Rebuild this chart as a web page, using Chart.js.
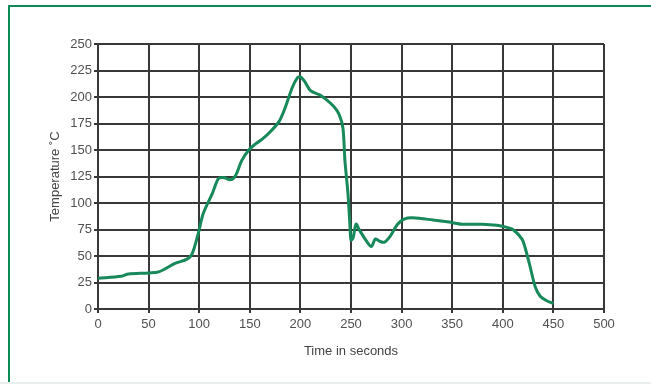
<!DOCTYPE html>
<html>
<head>
<meta charset="utf-8">
<script src="https://cdn.jsdelivr.net/npm/chart.js@4.4.1/dist/chart.umd.min.js"></script>
<style>
    body { margin: 0; background: #fff; }
    #wrap { position: relative; width: 651px; height: 384px; overflow: hidden; }
    #frame {
        position: absolute; left: 8px; top: 5px; width: 700px; height: 400px;
        border-left: 2px solid #0e8a57; border-top: 2px solid #0e8a57;
    }
    #bottomLine { position: absolute; left: 0; top: 382px; width: 651px; height: 2px; background: #e9efee; }
    canvas { position: absolute; left: 0; top: 0; }
</style>
</head>
<body>
<div id="wrap">
    <div id="frame"></div>
    <div id="bottomLine"></div>
    <canvas id="tempChart" width="651" height="384"></canvas>
</div>
<script>
// Temperature profile
const timeSec = [0, 23, 30, 50, 60, 76, 88, 93, 99, 104, 113, 119, 124, 131, 136, 142, 149, 156, 162, 171, 179, 185, 192, 197, 200, 204, 210, 219, 225, 233, 238, 242, 244, 247, 249, 250, 252, 255, 258, 264, 270, 274, 278, 283, 289, 296, 303, 311, 331, 347, 360, 380, 394, 404, 410, 419, 422, 427, 432, 437, 443, 450];
const tempC   = [29, 31, 33, 34, 35, 43, 47, 52, 71, 90, 109, 123, 124, 122, 126, 140, 150, 156, 160, 168, 177, 190, 209, 218, 219, 215, 206, 202, 198, 191, 184, 171, 140, 109, 78, 65, 67, 80, 75, 66, 59, 66, 64, 63, 69, 80, 85, 86, 84, 82, 80, 80, 79, 77, 75, 66, 58, 40, 21, 12, 8, 5];

const xTicks = [0, 50, 100, 150, 200, 250, 300, 350, 400, 450, 500];
const yTicks = [0, 25, 50, 75, 100, 125, 150, 175, 200, 225, 250];

const points = timeSec.map((t, i) => ({ x: t, y: tempC[i] }));

const gridColor = '#383838';
const labelColor = '#505050';
const labelFont = { family: 'Liberation Sans, Arial, sans-serif', size: 13 };

const ctx = document.getElementById('tempChart');
const tempChart = new Chart(ctx, {
    type: 'line',
    data: {
        datasets: [{
            label: 'Temperature',
            data: points,
            borderColor: '#17895a',
            borderWidth: 3,
            pointRadius: 0,
            tension: 0.3,
            fill: false
        }]
    },
    options: {
        responsive: false,
        animation: false,
        layout: {
            padding: { top: 44, right: 47, left: 48, bottom: 25 }
        },
        plugins: {
            legend: { display: false },
            tooltip: { enabled: false }
        },
        scales: {
            x: {
                type: 'linear',
                min: 0,
                max: 500,
                afterBuildTicks: function(scale) {
                    scale.ticks = xTicks.map(v => ({ value: v }));
                },
                afterFit: function(scale) {
                    scale.height = 50;
                },
                grid: {
                    color: gridColor,
                    lineWidth: 2,
                    tickLength: 4
                },
                border: { color: gridColor, width: 2 },
                ticks: {
                    color: labelColor,
                    padding: 4,
                    maxRotation: 0,
                    font: labelFont
                },
                title: {
                    display: true,
                    text: 'Time in seconds',
                    color: '#444',
                    padding: 0,
                    font: labelFont
                }
            },
            y: {
                min: 0,
                max: 250,
                afterBuildTicks: function(scale) {
                    scale.ticks = yTicks.map(v => ({ value: v }));
                },
                afterFit: function(scale) {
                    scale.width = 50;
                },
                grid: {
                    color: gridColor,
                    lineWidth: 2,
                    tickLength: 4
                },
                border: { color: gridColor, width: 2 },
                ticks: {
                    color: labelColor,
                    padding: 2,
                    font: labelFont
                },
                title: {
                    display: true,
                    text: 'Temperature ˚C',
                    color: '#444',
                    padding: 0,
                    font: labelFont
                }
            }
        }
    }
});
</script>
</body>
</html>
